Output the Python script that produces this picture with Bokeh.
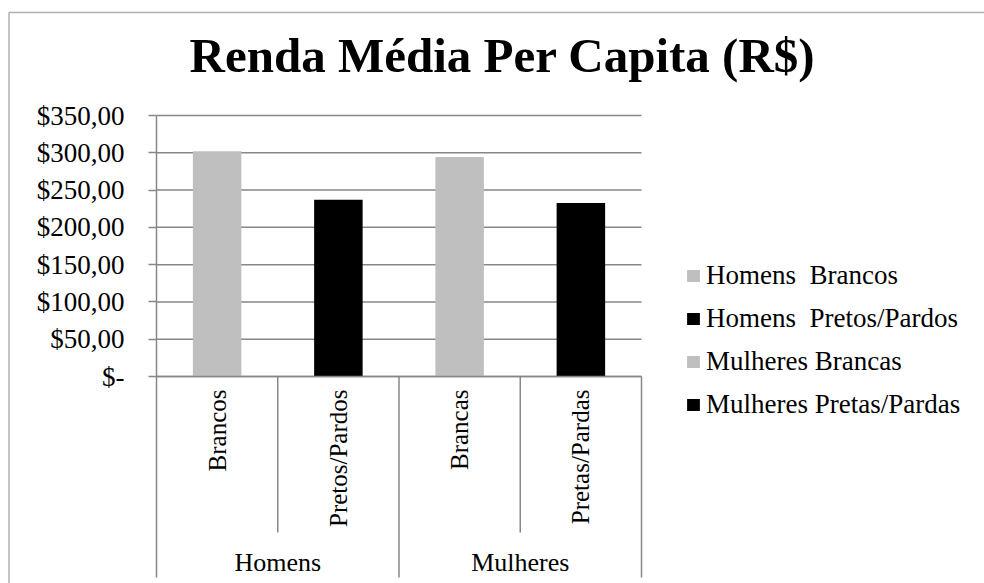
import math
from bokeh.plotting import figure
from bokeh.models import (ColumnDataSource, FixedTicker, Legend, LegendItem, Label,
                          LinearAxis, Range1d)
from bokeh.embed import file_html
from bokeh.resources import INLINE

# ---- data ----
groups = ["Homens", "Homens", "Mulheres", "Mulheres"]
subgroups = ["Brancos", "Pretos/Pardos", "Brancas", "Pretas/Pardas"]
values = [302.0, 237.0, 294.5, 232.5]
series_names = ["Homens  Brancos", "Homens  Pretos/Pardos", "Mulheres Brancas", "Mulheres Pretas/Pardas"]
colors = ["#bfbfbf", "#000000", "#bfbfbf", "#000000"]
y_ticks = [0, 50, 100, 150, 200, 250, 300, 350]
y_tick_labels = ["$-", "$50,00", "$100,00", "$150,00", "$200,00", "$250,00", "$300,00", "$350,00"]
title_text = "Renda Média Per Capita (R$)"

# ---- layout (pixels) ----
W, H = 984, 583
PLOT_L, PLOT_R = 156, 641      # category block
PLOT_T, PLOT_B = 115, 376      # value 350 .. value 0
FONT = "Liberation Serif"
GRAY = "#878787"
Y_MAX = y_ticks[-1]

n = len(subgroups)
x_ppu = (PLOT_R - PLOT_L) / n
y_ppu = (PLOT_B - PLOT_T) / Y_MAX
x_start = -PLOT_L / x_ppu
x_end = (W - PLOT_L) / x_ppu
y_end = Y_MAX + PLOT_T / y_ppu
y_start = -(H - PLOT_B) / y_ppu


def dx(px):
    return x_start + px / x_ppu


def dy(py):
    return y_end - py / y_ppu


centers = [i + 0.5 for i in range(n)]
group_names = []
group_centers = []
for g in groups:
    if g not in group_names:
        group_names.append(g)
for g in group_names:
    idx = [i for i, gg in enumerate(groups) if gg == g]
    group_centers.append((idx[0] + idx[-1] + 1) / 2)

source = ColumnDataSource(dict(x=centers, top=values, color=colors, series=series_names))

p = figure(width=W, height=H, x_range=Range1d(x_start, x_end), y_range=Range1d(y_start, y_end),
           output_backend="svg", toolbar_location=None,
           x_axis_location=None, y_axis_location=None, min_border=0)
p.outline_line_color = None
p.background_fill_color = "white"
p.border_fill_color = "white"
p.xgrid.visible = False
p.ygrid.visible = False

# horizontal gridlines across the category block
p.segment(x0=[0] * len(y_ticks), x1=[n] * len(y_ticks), y0=y_ticks, y1=y_ticks,
          line_color=GRAY, line_width=1.5)

bars = p.vbar(x="x", top="top", width=0.4, color="color", line_color=None, source=source)

# y axis
yax = LinearAxis(fixed_location=0, bounds=(0, Y_MAX), ticker=FixedTicker(ticks=y_ticks))
yax.major_label_overrides = {t: l for t, l in zip(y_ticks, y_tick_labels)}
yax.major_label_text_font = FONT
yax.major_label_text_font_size = "27px"
yax.major_label_text_color = "#000000"
yax.major_label_standoff = 24
yax.major_tick_out = 8
yax.major_tick_in = 0
yax.major_tick_line_color = GRAY
yax.major_tick_line_width = 1.5
yax.minor_tick_line_color = None
yax.axis_line_color = GRAY
yax.axis_line_width = 1.5
p.add_layout(yax, "left")

# x axis: subcategories
xax = LinearAxis(fixed_location=0, bounds=(0, n), ticker=FixedTicker(ticks=centers))
xax.major_label_overrides = {c: s for c, s in zip(centers, subgroups)}
xax.axis_line_color = GRAY
xax.axis_line_width = 1.5
xax.major_tick_line_color = None
xax.minor_tick_line_color = None
xax.major_tick_out = 0
xax.major_tick_in = 0
xax.major_label_orientation = math.pi / 2
xax.major_label_text_font = FONT
xax.major_label_text_font_size = "25px"
xax.major_label_text_color = "#000000"
xax.major_label_standoff = 13
p.add_layout(xax, "below")

# x axis: groups
gax = LinearAxis(fixed_location=0, ticker=FixedTicker(ticks=group_centers))
gax.major_label_overrides = {c: g for c, g in zip(group_centers, group_names)}
gax.axis_line_color = None
gax.major_tick_line_color = None
gax.minor_tick_line_color = None
gax.major_tick_out = 0
gax.major_tick_in = 0
gax.major_label_text_font = FONT
gax.major_label_text_font_size = "26px"
gax.major_label_text_color = "#000000"
gax.major_label_standoff = 171
p.add_layout(gax, "below")

# category separators below the axis
sep_x, sep_y1 = [], []
for i in range(n + 1):
    long_sep = i == 0 or i == n or groups[i] != groups[i - 1]
    sep_x.append(i)
    sep_y1.append(dy(577) if long_sep else dy(532))
p.segment(x0=sep_x, x1=sep_x, y0=[0] * len(sep_x), y1=sep_y1, line_color=GRAY, line_width=1.5)

# outer chart border (left and top edges visible)
p.segment(x0=[dx(8.5), dx(8.5)], y0=[dy(H + 5), dy(12)], x1=[dx(8.5), dx(W + 5)], y1=[dy(12), dy(12)],
          line_color="#b0b0b0", line_width=1.5)

# title
p.add_layout(Label(x=502, y=H - 55, x_units="screen", y_units="screen", text=title_text,
                   text_align="center", text_baseline="alphabetic", text_font=FONT,
                   text_font_size="49px", text_font_style="bold", text_color="#000000"))

# legend
items = [LegendItem(label=series_names[i], renderers=[bars], index=i) for i in range(n)]
legend = Legend(items=items, location=(685, H - 420), padding=0, margin=0, spacing=12,
                label_standoff=5, glyph_width=16, glyph_height=15, label_height=30,
                label_text_font=FONT, label_text_font_size="27px", label_text_color="#000000",
                border_line_color=None, background_fill_alpha=0)
p.add_layout(legend)

open("out.html", "w").write(file_html(p, INLINE))
